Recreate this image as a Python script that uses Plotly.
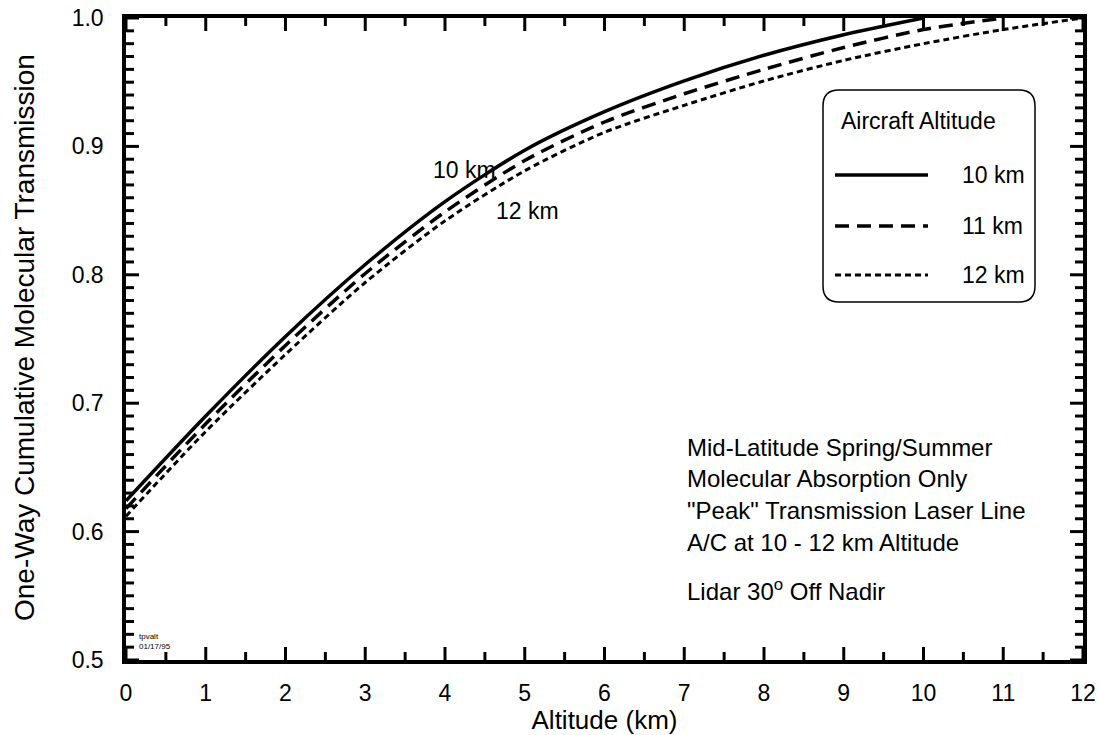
import plotly.graph_objects as go

# Altitude grid (km) and one-way cumulative molecular transmission for each aircraft altitude
alt_10 = [0, 1, 2, 3, 4, 5, 6, 7, 8, 9, 10]
trans_10 = [0.624, 0.690, 0.752, 0.808, 0.857, 0.897, 0.927, 0.951, 0.971, 0.987, 1.000]

alt_11 = [0, 1, 2, 3, 4, 5, 6, 7, 8, 9, 10, 11]
trans_11 = [0.618, 0.684, 0.745, 0.801, 0.849, 0.889, 0.919, 0.941, 0.960, 0.977, 0.991, 1.000]

alt_12 = [0, 1, 2, 3, 4, 5, 6, 7, 8, 9, 10, 11, 12]
trans_12 = [0.612, 0.678, 0.738, 0.794, 0.842, 0.881, 0.911, 0.932, 0.951, 0.967, 0.980, 0.991, 1.000]

legend_labels = ["10 km", "11 km", "12 km"]
notes = [
    "Mid-Latitude Spring/Summer",
    "Molecular Absorption Only",
    "\"Peak\" Transmission Laser Line",
    "A/C at 10 - 12 km Altitude",
]

# tick positions for the frame (major / minor)
x_major = list(range(0, 13))
x_minor = [i / 2 for i in range(1, 24, 2)]
y_major = [0.5 + i / 10 for i in range(0, 6)]
y_minor = [0.5 + i / 100 for i in range(1, 50) if i % 10]

FONT = "Liberation Sans, Arial, sans-serif"
W, H = 1099, 735
ML, MR, MT, MB = 126, 16, 18, 75
PW, PH = W - ML - MR, H - MT - MB

SOLID = "solid"
DASHED = "14px,8px"
DOTTED = "6px,4px"
MAJOR_LEN, MINOR_LEN = 13, 8


def px_x(p):
    """pixel column -> paper x"""
    return (p - ML) / PW


def px_y(p):
    """pixel row -> paper y"""
    return (H - MB - p) / PH


fig = go.Figure()
for xs, ys, dash, width, name in [
    (alt_10, trans_10, SOLID, 3.5, legend_labels[0]),
    (alt_11, trans_11, DASHED, 3.5, legend_labels[1]),
    (alt_12, trans_12, DOTTED, 3.0, legend_labels[2]),
]:
    fig.add_trace(go.Scatter(
        x=xs, y=ys, mode="lines", name=name,
        line=dict(color="black", width=width, dash=dash, shape="spline", smoothing=0.8),
        showlegend=False,
    ))

fig.update_xaxes(
    range=[0, 12], tickvals=x_major,
    showline=True, linecolor="black", linewidth=3.5, mirror=True,
    ticks="", showgrid=False, zeroline=False,
    ticklabelstandoff=10,
    tickfont=dict(family=FONT, size=23, color="black"),
    title=dict(text="Altitude (km)", font=dict(family=FONT, size=26, color="black"), standoff=0),
)
fig.update_yaxes(
    range=[0.5, 1.0], tickvals=y_major, tickformat=".1f",
    showline=True, linecolor="black", linewidth=3.5, mirror=True,
    ticks="", showgrid=False, zeroline=False,
    ticklabelstandoff=14,
    tickfont=dict(family=FONT, size=23, color="black"),
)

shapes = []
tick_line = dict(color="black", width=3)
# inward tick marks on all four edges, positioned on the data scales
for vals, length in [(x_major, MAJOR_LEN), (x_minor, MINOR_LEN)]:
    for v in vals:
        shapes.append(dict(type="line", xref="x", x0=v, x1=v, yref="paper", ysizemode="pixel",
                           yanchor=0, y0=0, y1=length, line=tick_line, layer="above"))
        shapes.append(dict(type="line", xref="x", x0=v, x1=v, yref="paper", ysizemode="pixel",
                           yanchor=1, y0=-length, y1=0, line=tick_line, layer="above"))
for vals, length in [(y_major, MAJOR_LEN), (y_minor, MINOR_LEN)]:
    for v in vals:
        shapes.append(dict(type="line", yref="y", y0=v, y1=v, xref="paper", xsizemode="pixel",
                           xanchor=0, x0=0, x1=length, line=tick_line, layer="above"))
        shapes.append(dict(type="line", yref="y", y0=v, y1=v, xref="paper", xsizemode="pixel",
                           xanchor=1, x0=-length, x1=0, line=tick_line, layer="above"))

annotations = []
# y-axis title
annotations.append(dict(x=px_x(24), y=px_y(338), xref="paper", yref="paper",
                        text="One-Way Cumulative Molecular Transmission", textangle=-90,
                        showarrow=False, xanchor="center", yanchor="middle",
                        font=dict(family=FONT, size=28, color="black")))
# curve labels
annotations.append(dict(x=4.24, y=0.882, xref="x", yref="y", text="10 km", showarrow=False,
                        xanchor="center", yanchor="middle",
                        font=dict(family=FONT, size=23, color="black")))
annotations.append(dict(x=5.03, y=0.850, xref="x", yref="y", text="12 km", showarrow=False,
                        xanchor="center", yanchor="middle",
                        font=dict(family=FONT, size=23, color="black")))

# note block
note_rows = [447, 478, 510, 542]
for txt, row in zip(notes, note_rows):
    annotations.append(dict(x=px_x(685), y=px_y(row), xref="paper", yref="paper", text=txt,
                            showarrow=False, xanchor="left", yanchor="middle",
                            font=dict(family=FONT, size=24, color="black")))
annotations.append(dict(x=px_x(685), y=px_y(590), xref="paper", yref="paper",
                        text="Lidar 30<sup>o</sup> Off Nadir",
                        showarrow=False, xanchor="left", yanchor="middle",
                        font=dict(family=FONT, size=24, color="black")))

# file stamp
annotations.append(dict(x=px_x(137), y=px_y(641), xref="paper", yref="paper",
                        text="tpvalt<br>01/17/95", showarrow=False, xanchor="left",
                        yanchor="middle", align="left",
                        font=dict(family=FONT, size=8, color="black")))

# legend box
bx0, by0, bx1, by1, r = 823, 90, 1035, 302, 16
x0, x1 = px_x(bx0), px_x(bx1)
y0, y1 = px_y(by1), px_y(by0)
rx, ry = r / PW, r / PH
box_path = (
    f"M {x0 + rx},{y1} L {x1 - rx},{y1} Q {x1},{y1} {x1},{y1 - ry} "
    f"L {x1},{y0 + ry} Q {x1},{y0} {x1 - rx},{y0} "
    f"L {x0 + rx},{y0} Q {x0},{y0} {x0},{y0 + ry} "
    f"L {x0},{y1 - ry} Q {x0},{y1} {x0 + rx},{y1} Z"
)
shapes.append(dict(type="path", path=box_path, xref="paper", yref="paper",
                   line=dict(color="black", width=1.5), fillcolor="white", layer="above"))

annotations.append(dict(x=px_x(918), y=px_y(121), xref="paper", yref="paper",
                        text="Aircraft Altitude", showarrow=False,
                        xanchor="center", yanchor="middle",
                        font=dict(family=FONT, size=23, color="black")))
entry_rows = [175, 226, 275]
for lab, row, dash, width in zip(legend_labels, entry_rows, [SOLID, DASHED, DOTTED], [3.5, 3.5, 3.0]):
    shapes.append(dict(type="line", xref="paper", yref="paper",
                       x0=px_x(835), x1=px_x(928), y0=px_y(row), y1=px_y(row),
                       line=dict(color="black", width=width, dash=dash), layer="above"))
    annotations.append(dict(x=px_x(960), y=px_y(row), xref="paper", yref="paper", text=lab,
                            showarrow=False, xanchor="left", yanchor="middle",
                            font=dict(family=FONT, size=23, color="black")))

fig.update_layout(
    width=W, height=H,
    margin=dict(l=ML, r=MR, t=MT, b=MB, autoexpand=False),
    paper_bgcolor="white", plot_bgcolor="white",
    showlegend=False,
    annotations=annotations, shapes=shapes,
    font=dict(family=FONT, color="black"),
)

fig.write_html("out.html")
